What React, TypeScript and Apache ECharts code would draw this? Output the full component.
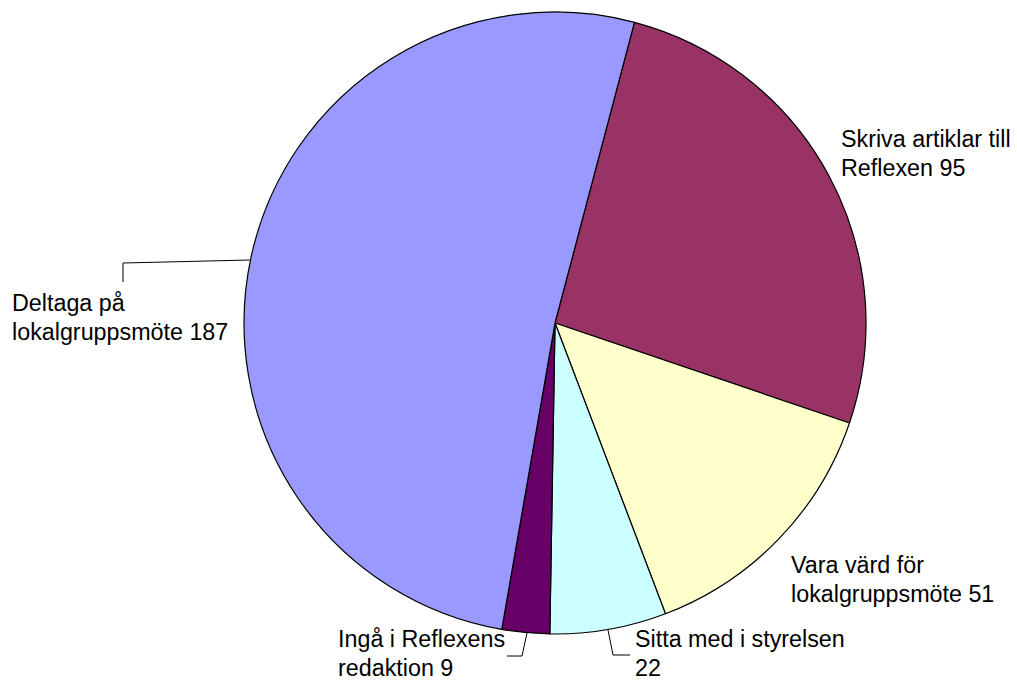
import React, { useEffect, useRef } from "react";
import * as echarts from "echarts";

const categories = [
  "Skriva artiklar till\nReflexen",
  "Vara värd för\nlokalgruppsmöte",
  "Sitta med i styrelsen\n",
  "Ingå i Reflexens\nredaktion",
  "Deltaga på\nlokalgruppsmöte",
];
const values = [95, 51, 22, 9, 187];
const colors = ["#993366", "#FFFFCC", "#CCFFFF", "#660066", "#9999FF"];
const showLeader = [false, false, true, true, true];

export default function App() {
  const ref = useRef<HTMLDivElement>(null);
  useEffect(() => {
    if (!ref.current) return;
    const chart = echarts.init(ref.current, undefined, { renderer: "svg" });
    const labelPos: Record<number, { x: number; y: number; pts?: number[][] }> = {
      0: { x: 841, y: 124 },
      1: { x: 791, y: 550 },
      2: { x: 635, y: 624, pts: [[608, 630], [613, 655], [630, 655]] },
      3: { x: 338, y: 624, pts: [[527, 633], [522, 656], [507, 656]] },
      4: { x: 12, y: 288, pts: [[250, 260], [123, 263], [123, 282]] },
    };
    chart.setOption({
      animation: false,
      backgroundColor: "#ffffff",
      series: [
        {
          type: "pie",
          center: [555, 323],
          radius: 311,
          startAngle: 75.2,
          clockwise: true,
          silent: true,
          itemStyle: { borderColor: "#000000", borderWidth: 1.2 },
          label: {
            show: true,
            position: "outside",
            color: "#000000",
            fontFamily: "Liberation Sans, Arial, sans-serif",
            fontSize: 23.3,
            lineHeight: 29,
            align: "left",
            overflow: "none",
            formatter: (p: any) => {
              const name: string = p.name;
              if (name.endsWith("\n")) return name + p.value;
              return name + " " + p.value;
            },
          },
          labelLine: { show: true, lineStyle: { color: "#000000", width: 1 } },
          labelLayout: (params: any) => {
            const lp = labelPos[params.dataIndex];
            const out: any = { x: lp.x, y: lp.y, align: "left", verticalAlign: "top" };
            if (lp.pts) out.labelLinePoints = lp.pts;
            return out;
          },
          data: categories.map((c, i) => ({
            name: c,
            value: values[i],
            itemStyle: { color: colors[i] },
            labelLine: { show: showLeader[i] },
          })),
        },
      ],
    });
    return () => chart.dispose();
  }, []);
  return (
    <div
      ref={ref}
      style={{ position: "fixed", left: 0, top: 0, width: 1017, height: 684 }}
    />
  );
}
